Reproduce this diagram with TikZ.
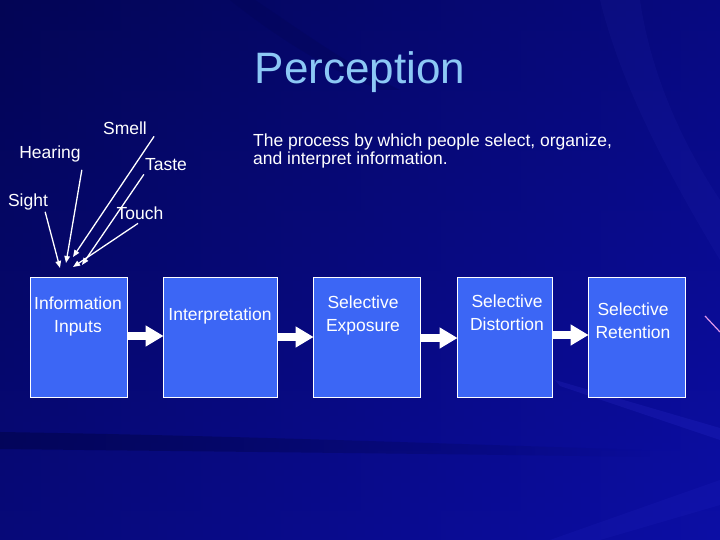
\documentclass[tikz,border=0pt]{standalone}
\usepackage{fontspec}
\setmainfont{Liberation Sans}
\usetikzlibrary{arrows.meta,calc,fadings}
\definecolor{BgDark}{RGB}{3,5,85}
\definecolor{BgLight}{RGB}{12,14,165}
\definecolor{BoxClr}{RGB}{60,102,245}
\definecolor{TitleClr}{RGB}{140,200,245}
\definecolor{StreakClr}{RGB}{225,150,235}
\tikzfading[name=fade right,left color=transparent!20,right color=transparent!100]

\begin{document}
\begin{tikzpicture}[x=1pt,y=-1pt,
  stepbox/.style={draw=white,line width=0.8pt,fill=BoxClr,minimum height=120pt,inner sep=0pt},
  boxtext/.style={text=white,font=\fontsize{17.5}{23}\selectfont,align=center,anchor=north,inner sep=0pt},
  sense/.style={text=white,font=\fontsize{17.5}{21}\selectfont,anchor=base,inner sep=1pt},
  feed/.style={draw=white,line width=1.3pt,-{Triangle[length=7pt,width=5.5pt]}},
  flow/.style={draw=white,line width=8pt,-{Triangle[length=18pt,width=20pt]},shorten >=-1pt}]
\useasboundingbox (0,0) rectangle (720,540);

% background
\shade[left color=BgDark,right color=BgLight] (0,0) rectangle (720,540);
\shade[top color=BgDark,bottom color=BgLight,opacity=0.45] (0,0) rectangle (720,540);
\fill[BgDark,path fading=fade right] (0,432) .. controls (250,436) and (450,444) .. (650,450) -- (650,457) .. controls (450,454) and (250,452) .. (0,449) -- cycle;
\fill[blue!70!white,opacity=0.12] (555,380) -- (720,428) -- (720,440) -- (560,386) -- cycle;
\fill[blue!70!white,opacity=0.07] (550,540) -- (720,480) -- (720,505) -- (600,540) -- cycle;
\fill[BgDark,opacity=0.35] (230,0) .. controls (280,40) and (330,70) .. (380,90) -- (400,90) .. controls (340,60) and (300,30) .. (255,0) -- cycle;
\fill[blue!60!white,opacity=0.05] (600,0) .. controls (620,80) and (660,160) .. (720,260) -- (720,200) .. controls (680,140) and (650,70) .. (640,0) -- cycle;
\draw[StreakClr,line width=1.2pt] (705,316) -- (720,332);

% title and definition
\node[text=TitleClr,font=\fontsize{44}{50}\selectfont,anchor=base] (title) at (360,84) {Perception};
\node[text=white,font=\fontsize{17.5}{18}\selectfont,align=left,anchor=north west,inner sep=0pt] (def) at (253,134)
  {The process by which people select, organize,\\and interpret information.};

% senses
\node[sense] (sight) at (28,207) {Sight};
\node[sense] (hearing) at (50,159) {Hearing};
\node[sense] (smell) at (125,135) {Smell};
\node[sense] (taste) at (166,171) {Taste};
\node[sense] (touch) at (140,219) {Touch};

% boxes
\node[stepbox,minimum width=97pt] (inputs) at (78.5,337) {};
\node[stepbox,minimum width=114pt] (interp) at (220,337) {};
\node[stepbox,minimum width=107pt] (expo) at (366.5,337) {};
\node[stepbox,minimum width=95pt] (dist) at (504.5,337) {};
\node[stepbox,minimum width=97pt] (reten) at (636.5,337) {};

\node[boxtext] (t1) at (78,296.5) {Information\\Inputs};
\node[boxtext] (t2) at (220,307.5) {Interpretation};
\node[boxtext] (t3) at (363,296) {Selective\\Exposure};
\node[boxtext] (t4) at (507,295) {Selective\\Distortion};
\node[boxtext] (t5) at (633,302.5) {Selective\\Retention};

% arrow ends on the first box
\coordinate (e1) at (60,268);
\coordinate (e2) at (66,263);
\coordinate (e3) at (73,257);
\coordinate (e4) at (82,265);
\coordinate (e5) at (73,267);

\draw[feed] ([xshift=-4pt]sight.south east) -- (e1);
\draw[feed] ([yshift=-6pt]hearing.south east) -- (e2);
\draw[feed] ([xshift=6pt]smell.south east) -- (e3);
\draw[feed] ([yshift=-2pt]taste.south west) -- (e4);
\draw[feed] ([xshift=-2pt,yshift=-3pt]touch.south) -- (e5);

\draw[flow] (inputs.east |- 0,336) -- (interp.west |- 0,336);
\draw[flow] (interp.east |- 0,337) -- (expo.west |- 0,337);
\draw[flow] (expo.east |- 0,338) -- (dist.west |- 0,338);
\draw[flow] (dist.east |- 0,335) -- (reten.west |- 0,335);

\end{tikzpicture}
\end{document}
